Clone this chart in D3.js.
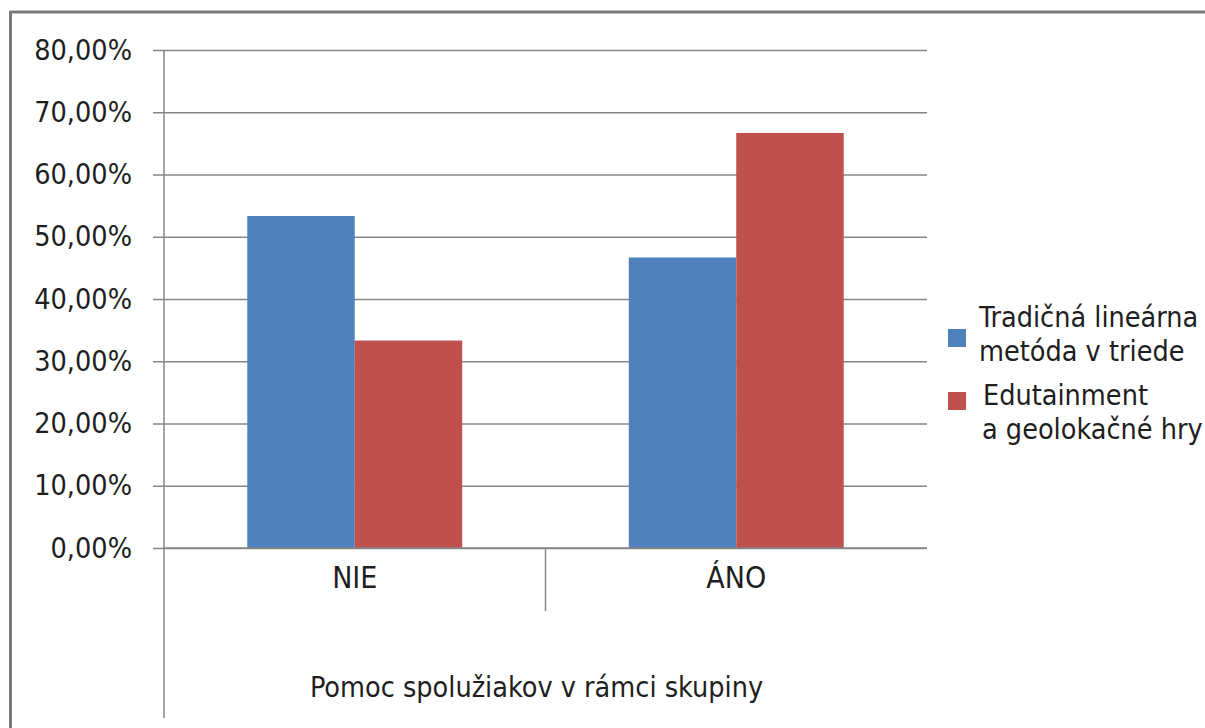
<!DOCTYPE html>
<html>
<head>
<meta charset="utf-8">
<script src="https://cdn.jsdelivr.net/npm/d3@7/dist/d3.min.js"></script>
<style>
  html, body { margin: 0; padding: 0; background: #fff; }
  svg { display: block; }
  text { font-family: "DejaVu Sans Condensed", "DejaVu Sans", sans-serif; fill: #1e1e1e; }
</style>
</head>
<body>
<svg id="chart" width="1205" height="728"></svg>
<script>
// Categories, series and tick values
const categories = ["NIE", "ÁNO"];
const seriesNames = ["Tradičná lineárna metóda v triede", "Edutainment a geolokačné hry"];
const legendLines = [["Tradičná lineárna", "metóda v triede"], ["Edutainment", "a geolokačné hry"]];
const traditional = [53.33, 46.67];
const edutainment = [33.33, 66.67];
const tickValues = [0, 10, 20, 30, 40, 50, 60, 70, 80];
const axisTitle = "Pomoc spolužiakov v rámci skupiny";

const colors = ["#4f81bd", "#c0504d"];
const seriesValues = [traditional, edutainment];

const svg = d3.select("#chart");
const plot = { left: 164, right: 927, top: 50, bottom: 548 };

const y = d3.scaleLinear().domain([0, 80]).range([plot.bottom, plot.top]);
const x0 = d3.scaleBand().domain(categories).range([plot.left, plot.right]);
const x1 = d3.scaleBand().domain(d3.range(seriesNames.length))
  .range([0, x0.bandwidth()]).paddingOuter(0.775).paddingInner(0);

const fmt = v => d3.format(".2f")(v).replace(".", ",") + "%";

// Outer frame (top and left edges)
svg.append("line").attr("x1", 10).attr("x2", 1205).attr("y1", 12).attr("y2", 12)
  .attr("stroke", "#7a7a7a").attr("stroke-width", 3);
svg.append("line").attr("x1", 10.5).attr("x2", 10.5).attr("y1", 11).attr("y2", 728)
  .attr("stroke", "#7a7a7a").attr("stroke-width", 3);

// Horizontal gridlines
svg.append("g")
  .attr("transform", `translate(${plot.left},0)`)
  .call(d3.axisLeft(y).tickValues(tickValues).tickSize(-(plot.right - plot.left)).tickFormat(""))
  .call(g => g.select(".domain").remove())
  .call(g => g.selectAll(".tick line").attr("stroke", "#868686").attr("stroke-width", 1.5));

// Value axis with labels and short ticks
svg.append("g")
  .attr("transform", `translate(${plot.left},0)`)
  .call(d3.axisLeft(y).tickValues(tickValues).tickSize(11).tickPadding(21).tickFormat(fmt))
  .call(g => g.select(".domain").remove())
  .call(g => g.selectAll(".tick line").attr("stroke", "#868686").attr("stroke-width", 1.5))
  .call(g => g.selectAll(".tick text").attr("font-size", 28.5).attr("fill", "#333")
    .style("font-family", "'DejaVu Sans Condensed', 'DejaVu Sans', sans-serif"));

// Bars
const groups = svg.append("g").selectAll("g").data(categories).join("g")
  .attr("transform", d => `translate(${x0(d)},0)`);
groups.selectAll("rect")
  .data((d, i) => seriesValues.map((s, k) => ({ k, v: s[i] })))
  .join("rect")
  .attr("x", d => x1(d.k))
  .attr("width", x1.bandwidth())
  .attr("y", d => y(d.v))
  .attr("height", d => y(0) - y(d.v))
  .attr("fill", d => colors[d.k]);

// Vertical axis line extending down through the category area
svg.append("line").attr("x1", plot.left).attr("x2", plot.left)
  .attr("y1", plot.top).attr("y2", 718).attr("stroke", "#868686").attr("stroke-width", 1.5);
// Category divider
svg.append("line").attr("x1", x0("ÁNO")).attr("x2", x0("ÁNO"))
  .attr("y1", plot.bottom).attr("y2", 611).attr("stroke", "#868686").attr("stroke-width", 1.5);
// Baseline
svg.append("line").attr("x1", plot.left).attr("x2", plot.right)
  .attr("y1", plot.bottom).attr("y2", plot.bottom).attr("stroke", "#868686").attr("stroke-width", 1.5);

// Category labels
svg.append("g").selectAll("text").data(categories).join("text")
  .attr("x", d => x0(d) + x0.bandwidth() / 2)
  .attr("y", 588)
  .attr("text-anchor", "middle")
  .attr("font-size", 30)
  .text(d => d);

// Axis title
svg.append("text")
  .attr("x", (plot.left + plot.right) / 2 - 9)
  .attr("y", 697)
  .attr("text-anchor", "middle")
  .attr("font-size", 28.5)
  .text(axisTitle);

// Legend
const legend = svg.append("g");
const legendY = [327, 405];
legendLines.forEach((lines, i) => {
  legend.append("rect")
    .attr("x", 948).attr("y", legendY[i] + (i === 0 ? 2 : -13))
    .attr("width", 18).attr("height", 18)
    .attr("fill", colors[i]);
  const t = legend.append("text")
    .attr("x", i === 0 ? 979 : 982)
    .attr("y", legendY[i])
    .attr("font-size", 28.5);
  lines.forEach((ln, j) => {
    t.append("tspan").attr("x", (i === 0 ? 979 : 982) + (i === 1 && j === 0 ? 1 : 0))
      .attr("dy", j === 0 ? 0 : 34).text(ln);
  });
});
</script>
</body>
</html>
